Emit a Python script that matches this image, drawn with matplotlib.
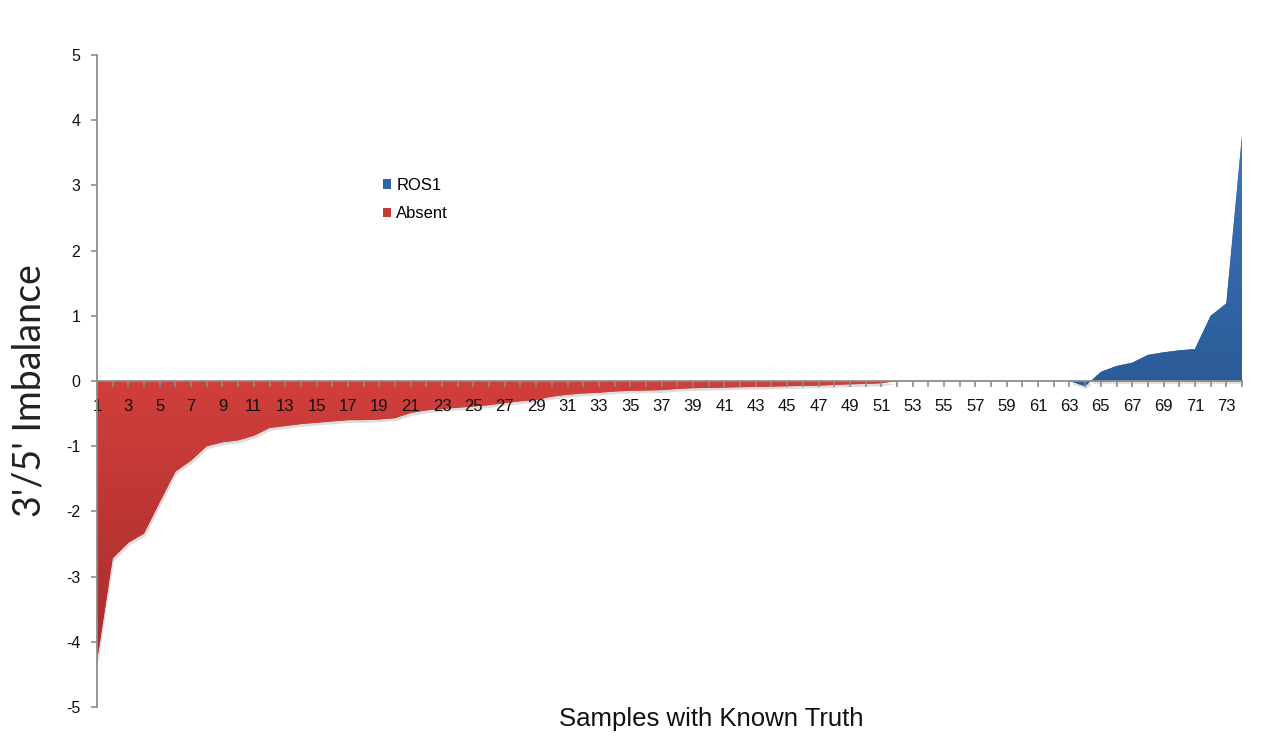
import numpy as np
import matplotlib
matplotlib.use("Agg")
import matplotlib.pyplot as plt
import matplotlib.patheffects as pe
from matplotlib.patches import Patch
from matplotlib.colors import LinearSegmentedColormap

plt.rcParams['font.family'] = ['Liberation Sans', 'DejaVu Sans']
plt.rcParams['axes.unicode_minus'] = False

# samples 1..74
samples = np.arange(1, 75)

# "Absent" series, samples 1..52
absent = [-4.30, -2.72, -2.48, -2.34, -1.86, -1.39, -1.22, -1.00, -0.94, -0.91,
          -0.84, -0.72, -0.69, -0.66, -0.64, -0.62, -0.60, -0.60, -0.59, -0.57,
          -0.49, -0.45, -0.43, -0.41, -0.39, -0.37, -0.34, -0.31, -0.29, -0.24,
          -0.21, -0.19, -0.18, -0.16, -0.15, -0.145, -0.14, -0.12, -0.11, -0.105,
          -0.10, -0.095, -0.09, -0.085, -0.08, -0.075, -0.07, -0.06, -0.05, -0.045,
          -0.035, 0.0]
# "ROS1" series, samples 63..74
ros1_start = 63
ros1 = [0.0, -0.08, 0.14, 0.23, 0.28, 0.40, 0.44, 0.47, 0.49, 1.00, 1.19, 3.76]

absent_full = np.zeros(len(samples))
absent_full[:len(absent)] = absent
ros1_full = np.zeros(len(samples))
ros1_full[ros1_start - 1:] = ros1

fig = plt.figure(figsize=(12.7, 7.51), dpi=100)
ax = fig.add_axes([97 / 1270, 1 - 707 / 751, (1242 - 97) / 1270, (707 - 55) / 751])


def gradient_area(y, c_top, c_bot, mid, lo, hi):
    poly = ax.fill_between(samples, 0, y, facecolor=mid, linewidth=0, zorder=0.8,
                           path_effects=[pe.SimplePatchShadow(offset=(1, -2),
                                                              shadow_rgbFace='#666666',
                                                              alpha=0.22),
                                         pe.Normal()])
    cmap = LinearSegmentedColormap.from_list('g', [c_bot, c_top])
    grad = np.linspace(0, 1, 256).reshape(-1, 1)
    im = ax.imshow(grad, extent=[1, 74, lo, hi], origin='lower', aspect='auto',
                   cmap=cmap, zorder=0.9, interpolation='bilinear')
    im.set_clip_path(poly.get_paths()[0], transform=ax.transData)


gradient_area(absent_full, '#d23f3c', '#a42d2b', '#c63a37', -4.4, 0.05)
gradient_area(ros1_full, '#3c76bb', '#2b5b97', '#3266a8', -0.1, 3.8)

ax.set_xlim(1, 74)
ax.set_ylim(-5, 5)

for s in ['top', 'right']:
    ax.spines[s].set_visible(False)
ax.spines['bottom'].set_position(('data', 0))
ax.spines['bottom'].set_color('#8c8c8c')
ax.spines['left'].set_color('#8c8c8c')
ax.spines['bottom'].set_linewidth(1.3)
ax.spines['left'].set_linewidth(1.3)

ax.set_xticks(samples[::2])
ax.set_xticks(samples[1::2], minor=True)
ax.set_xticklabels([str(v) for v in samples[::2]])
ax.tick_params(axis='x', which='both', direction='out', length=4, width=1.2,
               color='#8c8c8c', pad=9, labelsize=12, labelcolor='#111111')
ax.set_yticks(range(-5, 6))
ax.tick_params(axis='y', direction='out', length=4, width=1.2, color='#8c8c8c',
               labelsize=11.5, pad=8, labelcolor='#111111')

fig.text(30 / 1270, 1 - 391 / 751, "3'/5' Imbalance", rotation=90, fontsize=27,
         family=['Lato', 'DejaVu Sans'], ha='center', va='center', color='#222222')
fig.text(711 / 1270, 1 - 719 / 751, 'Samples with Known Truth', fontsize=18.5,
         ha='center', va='center', color='#111111')

handles = [Patch(facecolor='#3266a8', edgecolor='none'),
           Patch(facecolor='#c63a37', edgecolor='none')]
fig.legend(handles, ['ROS1', 'Absent'], loc='upper left',
           bbox_to_anchor=(383 / 1270, 1 - 178 / 751), frameon=False, fontsize=12,
           handlelength=0.5, handleheight=0.5, handletextpad=0.3, labelspacing=0.8,
           borderpad=0, borderaxespad=0)

fig.savefig('out.png', dpi=100, facecolor='white')
